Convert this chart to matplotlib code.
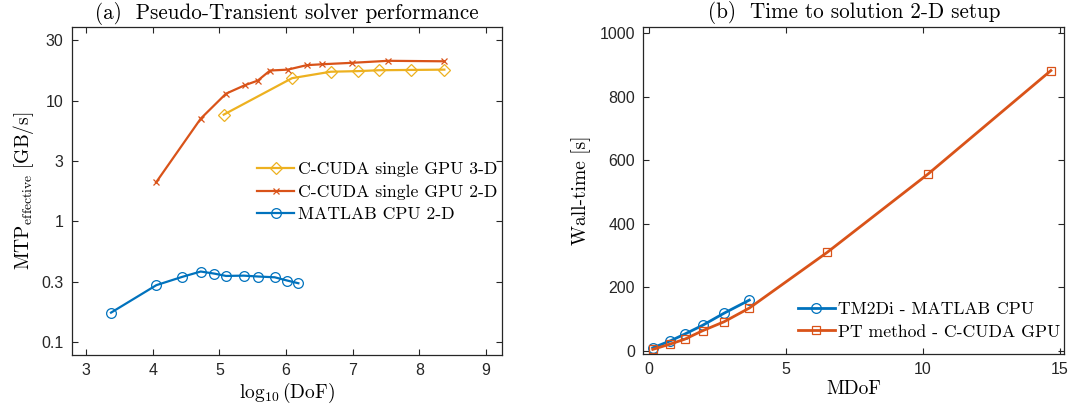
import matplotlib
matplotlib.use("Agg")
import matplotlib.pyplot as plt
import numpy as np

# ---- data: panel (a) ----
cuda3d_x = [5.065, 6.09, 6.67, 7.08, 7.395, 7.875, 8.375]
cuda3d_y = [7.64, 15.3, 17.3, 17.5, 17.8, 17.9, 18.0]
cuda2d_x = [4.05, 4.72, 5.10, 5.385, 5.575, 5.76, 6.025, 6.31, 6.545, 6.99, 7.53, 8.375]
cuda2d_y = [2.10, 7.08, 11.4, 13.4, 14.6, 17.7, 18.0, 19.6, 19.95, 20.5, 21.3, 21.1]
matlab_x = [3.375, 4.055, 4.445, 4.72, 4.925, 5.10, 5.365, 5.585, 5.83, 6.02, 6.185]
matlab_y = [0.176, 0.297, 0.348, 0.385, 0.370, 0.354, 0.356, 0.350, 0.345, 0.324, 0.308]
a_ytick_labels = ["0.1", "0.3", "1", "3", "10", "30"]
a_xticks = [3, 4, 5, 6, 7, 8, 9]

# ---- data: panel (b) ----
tm2di_x = [0.135, 0.78, 1.30, 1.96, 2.74, 3.66]
tm2di_y = [10, 32, 53, 81, 119, 160]
pt_x = [0.135, 0.78, 1.30, 1.96, 2.74, 3.66, 6.50, 10.19, 14.67]
pt_y = [5, 22, 37, 64, 92, 135, 310, 557, 882]
b_xticks = [0, 5, 10, 15]
b_yticks = [0, 200, 400, 600, 800, 1000]

BLUE = "#0072BD"
RED = "#D95319"
YEL = "#EDB120"
AX = "#262626"

plt.rcParams["mathtext.fontset"] = "cm"
plt.rcParams["axes.unicode_minus"] = False
SERIF = "cmr10"
TICKFONT = "Liberation Sans"

fig = plt.figure(figsize=(10.72, 4.16), dpi=100)
axa = fig.add_axes([71.7/1072, 61/416, (501.7-71.7)/1072, (355-27)/416])
axb = fig.add_axes([643.3/1072, (416-353.7)/416, (1064.3-643.3)/1072, (353.7-26.7)/416])

def style(ax):
    for s in ax.spines.values():
        s.set_color(AX)
        s.set_linewidth(0.9)
    ax.tick_params(direction="in", top=True, right=True, length=4, width=0.8,
                   colors=AX, labelsize=11.5, pad=6)
    for lab in ax.get_xticklabels() + ax.get_yticklabels():
        lab.set_family(TICKFONT)

# panel (a)
axa.plot(cuda3d_x, cuda3d_y, "-", color=YEL, lw=1.6, marker="D", ms=6.5, mfc="none",
         mec=YEL, mew=0.9, label="C-CUDA single GPU 3-D")
axa.plot(cuda2d_x, cuda2d_y, "-", color=RED, lw=1.6, marker="x", ms=5, mec=RED, mew=0.9,
         label="C-CUDA single GPU 2-D")
axa.plot(matlab_x, matlab_y, "-", color=BLUE, lw=1.6, marker="o", ms=7, mfc="none",
         mec=BLUE, mew=0.9, label="MATLAB CPU 2-D")
axa.set_yscale("log")
axa.set_xlim(2.785, 9.235)
axa.set_ylim(10**-1.105, 10**1.608)
axa.set_yticks([10**(k/2) for k in range(-2, 4)])
axa.set_yticklabels(a_ytick_labels)
axa.yaxis.set_minor_locator(matplotlib.ticker.NullLocator())
axa.set_xticks(a_xticks)
style(axa)
axa.set_xlabel(r"$\log_{10}(\mathrm{DoF})$", fontsize=14, labelpad=2)
axa.set_ylabel(r"$\mathrm{MTP}_{\mathrm{effective}}\ [\mathrm{GB/s}]$", fontsize=14, labelpad=4)
axa.set_title("(a)  Pseudo-Transient solver performance", family=SERIF, fontsize=15.2, pad=6)
axa.legend(loc="upper left", bbox_to_anchor=(0.415, 0.61), frameon=False,
           prop={"family": SERIF, "size": 12.7}, handlelength=2.1, handletextpad=0.2,
           labelspacing=0.4, borderaxespad=0)

# panel (b)
axb.plot(tm2di_x, tm2di_y, "-", color=BLUE, lw=2, marker="o", ms=7, mfc="none",
         mec=BLUE, mew=0.9, label="TM2Di - MATLAB CPU")
axb.plot(pt_x, pt_y, "-", color=RED, lw=2, marker="s", ms=5.5, mfc="none",
         mec=RED, mew=0.9, label="PT method - C-CUDA GPU")
axb.set_xlim(-0.21, 15.16)
axb.set_ylim(-8.5, 1020)
axb.set_xticks(b_xticks)
axb.set_yticks(b_yticks)
style(axb)
axb.set_xlabel("MDoF", family=SERIF, fontsize=14, labelpad=2)
axb.set_ylabel("Wall-time [s]", family=SERIF, fontsize=14, labelpad=6)
axb.set_title("(b)  Time to solution 2-D setup", family=SERIF, fontsize=15.2, pad=6)
axb.legend(loc="upper left", bbox_to_anchor=(0.35, 0.18), frameon=False,
           prop={"family": SERIF, "size": 12.7}, handlelength=2.1, handletextpad=0.2,
           labelspacing=0.4, borderaxespad=0)

fig.savefig("out.png", dpi=100)
